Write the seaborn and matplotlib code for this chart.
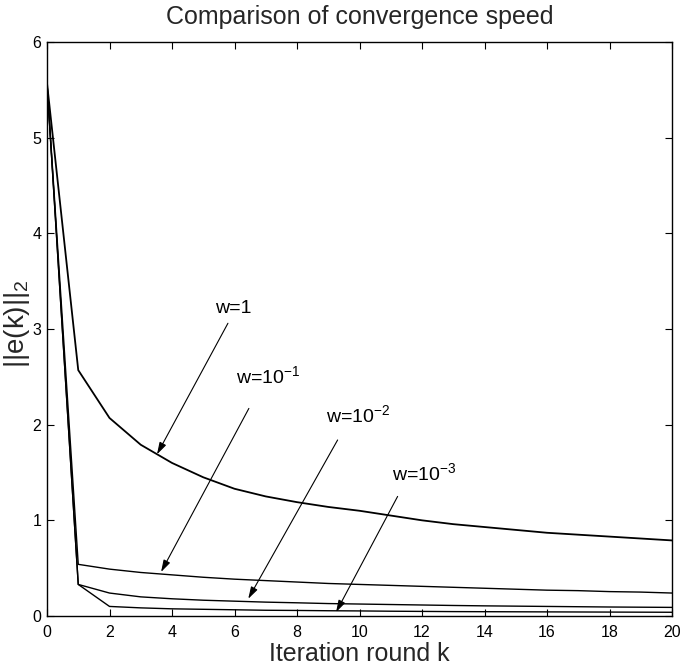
import matplotlib
matplotlib.use("Agg")
import matplotlib.pyplot as plt
import seaborn as sns
import pandas as pd

# ---- data ----
k = list(range(21))
w_1 = [5.57, 2.57, 2.07, 1.79, 1.60, 1.45, 1.33, 1.25, 1.19, 1.14, 1.10,
       1.05, 1.00, 0.96, 0.93, 0.90, 0.87, 0.85, 0.83, 0.81, 0.79]
w_1e1 = [5.57, 0.54, 0.49, 0.455, 0.43, 0.405, 0.385, 0.37, 0.355, 0.34, 0.33,
         0.32, 0.31, 0.30, 0.29, 0.28, 0.27, 0.265, 0.255, 0.25, 0.24]
w_1e2 = [5.57, 0.33, 0.24, 0.20, 0.18, 0.165, 0.155, 0.145, 0.138, 0.13, 0.125,
         0.12, 0.115, 0.11, 0.106, 0.103, 0.10, 0.097, 0.094, 0.092, 0.09]
w_1e3 = [5.57, 0.33, 0.10, 0.085, 0.075, 0.07, 0.065, 0.06, 0.058, 0.055, 0.053,
         0.05, 0.048, 0.046, 0.045, 0.044, 0.043, 0.042, 0.041, 0.040, 0.039]
series_names = ["w=1", "w=1e-1", "w=1e-2", "w=1e-3"]
series_values = [w_1, w_1e1, w_1e2, w_1e3]
labels = ["w=1", "w=10$^{-1}$", "w=10$^{-2}$", "w=10$^{-3}$"]
xticks = list(range(0, 21, 2))
yticks = list(range(0, 7))

# annotation anchor positions (data coords)
text_xy = [(5.97, 3.17), (7.07, 2.43), (9.95, 2.03), (12.06, 1.42)]
arrow_from = [(5.79, 3.06), (6.46, 2.17), (9.30, 1.84), (11.22, 1.25)]
arrow_to = [(3.52, 1.69), (3.65, 0.46), (6.44, 0.18), (9.25, 0.04)]

df = pd.DataFrame({
    "k": k * len(series_names),
    "err": sum(series_values, []),
    "series": sum([[n] * len(k) for n in series_names], []),
})

sns.set_style("ticks")
plt.rcParams["font.family"] = ["Liberation Sans", "DejaVu Sans"]
plt.rcParams["mathtext.default"] = "regular"

fig = plt.figure(figsize=(6.8, 6.72), dpi=100)
ax = fig.add_axes([47 / 680, 56 / 672, 625 / 680, 574 / 672])

sns.lineplot(data=df, x="k", y="err", hue="series", hue_order=series_names,
             palette=["black"] * 4, legend=False, ax=ax, linewidth=1.0)
ax.lines[0].set_linewidth(1.3)

for lab, (tx, ty), a0, a1 in zip(labels, text_xy, arrow_from, arrow_to):
    ax.text(tx, ty, lab, ha="center", va="baseline", fontsize=14, color="black")
    ax.annotate("", xy=a1, xytext=a0,
                arrowprops=dict(arrowstyle="-|>,head_length=0.6,head_width=0.18",
                                color="black", lw=0.8,
                                mutation_scale=12, shrinkA=0, shrinkB=0))

ax.set_xlim(0, 20)
ax.set_ylim(0, 6)
ax.set_xticks(xticks)
ax.set_yticks(yticks)
ax.tick_params(direction="in", top=True, right=True, length=5, width=0.8,
               labelsize=11.5, colors="black")
ax.tick_params(axis="x", pad=6.5)
ax.tick_params(axis="y", pad=4)
for s in ax.spines.values():
    s.set_visible(True)
    s.set_linewidth(1.0)
    s.set_color("black")

ax.set_xlabel("Iteration round k", fontsize=18)
ax.xaxis.set_label_coords(0.5, -0.045)
ax.set_ylabel("||e(k)||$_2$", fontsize=20)
ax.yaxis.set_label_coords(-0.024, 0.51)
ax.set_title("Comparison of convergence speed", fontsize=18, pad=13)

fig.savefig("out.png", dpi=100)
